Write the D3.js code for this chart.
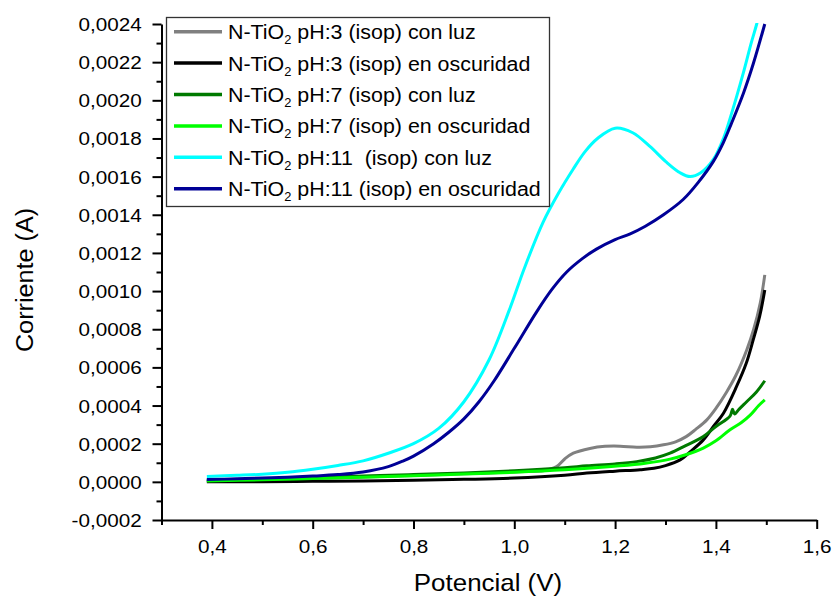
<!DOCTYPE html>
<html>
<head>
<meta charset="utf-8">
<script src="https://cdn.jsdelivr.net/npm/d3@7"></script>
<style>
  body { margin: 0; background: #fff; }
  svg text { font-family: "Liberation Sans", Arial, sans-serif; fill: #000; white-space: pre; }
</style>
</head>
<body>
<div id="chart"></div>
<script>
// data (potencial in V, corriente in A)
var xTicks = [0.4, 0.6, 0.8, 1.0, 1.2, 1.4, 1.6];
var xMinor = [0.3, 0.5, 0.7, 0.9, 1.1, 1.3, 1.5];
var yTicks = [-0.0002, 0, 0.0002, 0.0004, 0.0006, 0.0008, 0.0010, 0.0012, 0.0014, 0.0016, 0.0018, 0.0020, 0.0022, 0.0024];
var yMinor = [-0.0001, 0.0001, 0.0003, 0.0005, 0.0007, 0.0009, 0.0011, 0.0013, 0.0015, 0.0017, 0.0019, 0.0021, 0.0023];

var legendNames = [
  ["N-TiO", "2", " pH:3 (isop) con luz"],
  ["N-TiO", "2", " pH:3 (isop) en oscuridad"],
  ["N-TiO", "2", " pH:7 (isop) con luz"],
  ["N-TiO", "2", " pH:7 (isop) en oscuridad"],
  ["N-TiO", "2", " pH:11  (isop) con luz"],
  ["N-TiO", "2", " pH:11 (isop) en oscuridad"]
];
var colors = ["#808080", "#000000", "#007a00", "#00ff00", "#00ffff", "#000096"];

// pH 3 con luz
var xPh3Luz = [0.39, 0.5, 0.6, 0.7, 0.8, 0.9, 1.0, 1.06, 1.084, 1.1, 1.117, 1.15, 1.18, 1.21, 1.243, 1.27, 1.296, 1.32, 1.341, 1.36, 1.382, 1.40, 1.421, 1.44, 1.461, 1.475, 1.488, 1.497];
var yPh3Luz = [0.000005, 0.000012, 0.000018, 0.000025, 0.000033, 0.000042, 0.000052, 0.00006, 0.00008, 0.00012, 0.00015, 0.000175, 0.000186, 0.000187, 0.000182, 0.000184, 0.000194, 0.00021, 0.000237, 0.000275, 0.000325, 0.000385, 0.00047, 0.00056, 0.00069, 0.0008, 0.000937, 0.001085];
// pH 3 oscuridad
var xPh3Osc = [0.39, 0.5, 0.6, 0.7, 0.8, 0.9, 1.0, 1.1, 1.144, 1.2, 1.25, 1.277, 1.3, 1.329, 1.35, 1.375, 1.395, 1.415, 1.441, 1.46, 1.474, 1.487, 1.497];
var yPh3Osc = [0.0, 0.000001, 0.000003, 0.000005, 0.000008, 0.000013, 0.00002, 0.000035, 0.000046, 0.000056, 0.000064, 0.000071, 0.000085, 0.000115, 0.00016, 0.00022, 0.00029, 0.00036, 0.0005, 0.00062, 0.000744, 0.00087, 0.001006];
// pH 7 con luz
var xPh7Luz = [0.39, 0.5, 0.6, 0.7, 0.8, 0.9, 1.0, 1.1, 1.144, 1.2, 1.243, 1.28, 1.309, 1.34, 1.375, 1.40, 1.428, 1.433, 1.437, 1.445, 1.461, 1.48, 1.497];
var yPh7Luz = [0.000008, 0.000015, 0.000022, 0.00003, 0.000038, 0.000047, 0.000058, 0.000074, 0.000084, 0.000094, 0.000106, 0.000125, 0.00015, 0.00019, 0.000237, 0.00029, 0.000345, 0.00038, 0.000355, 0.000378, 0.00042, 0.00047, 0.00053];
// pH 7 oscuridad
var xPh7Osc = [0.39, 0.5, 0.6, 0.7, 0.8, 0.9, 1.0, 1.1, 1.21, 1.26, 1.309, 1.34, 1.375, 1.40, 1.428, 1.45, 1.468, 1.485, 1.497];
var yPh7Osc = [0.000005, 0.000011, 0.000017, 0.000024, 0.000032, 0.000041, 0.00005, 0.000063, 0.000084, 0.000098, 0.000119, 0.000142, 0.000177, 0.000215, 0.000273, 0.00031, 0.00035, 0.0004, 0.00043];
// pH 11 con luz
var xPh11Luz = [0.39, 0.45, 0.5, 0.55, 0.6, 0.65, 0.7, 0.75, 0.8, 0.85, 0.9, 0.95, 0.99, 1.02, 1.057, 1.087, 1.117, 1.14, 1.165, 1.20, 1.235, 1.269, 1.3, 1.329, 1.349, 1.37, 1.395, 1.415, 1.431, 1.454, 1.47, 1.481, 1.5];
var yPh11Luz = [0.000028, 0.000034, 0.00004, 0.00005, 0.000066, 0.000086, 0.00011, 0.00015, 0.0002, 0.00028, 0.00042, 0.00064, 0.0009, 0.00112, 0.00136, 0.00151, 0.00164, 0.00173, 0.0018, 0.001854, 0.00183, 0.001758, 0.00168, 0.00162, 0.0016, 0.00162, 0.00169, 0.0018, 0.00193, 0.00214, 0.0023, 0.0024, 0.0026];
// pH 11 oscuridad
var xPh11Osc = [0.39, 0.45, 0.5, 0.55, 0.6, 0.65, 0.7, 0.75, 0.78, 0.8, 0.84, 0.87, 0.9, 0.93, 0.96, 1.0, 1.044, 1.075, 1.104, 1.135, 1.163, 1.2, 1.23, 1.26, 1.296, 1.335, 1.365, 1.395, 1.415, 1.431, 1.455, 1.474, 1.497];
var yPh11Osc = [0.000012, 0.000016, 0.00002, 0.000024, 0.00003, 0.000038, 0.000052, 0.00008, 0.00011, 0.000135, 0.0002, 0.00026, 0.00033, 0.00042, 0.00053, 0.0007, 0.00089, 0.00101, 0.0011, 0.00117, 0.00122, 0.00127, 0.0013, 0.00134, 0.0014, 0.00148, 0.00157, 0.00168, 0.00178, 0.00188, 0.00204, 0.00219, 0.0024];

var seriesX = [xPh3Luz, xPh3Osc, xPh7Luz, xPh7Osc, xPh11Luz, xPh11Osc];
var seriesY = [yPh3Luz, yPh3Osc, yPh7Luz, yPh7Osc, yPh11Luz, yPh11Osc];

// canvas
var svgWidth = 832, svgHeight = 597;
var plotLeft = 161.5, plotRight = 816.7, plotTop = 24, plotBottom = 520;

var svg = d3.select("#chart").append("svg")
    .attr("width", svgWidth)
    .attr("height", svgHeight);

var xScale = d3.scaleLinear().domain([0.3, 1.6]).range([plotLeft, plotRight]);
var yScale = d3.scaleLinear().domain([-0.0002, 0.0024]).range([plotBottom, plotTop]);

var comma = function(n, dec) { return d3.format("." + dec + "f")(n).replace(".", ",").replace("−", "-"); };

// clip for the curves
svg.append("clipPath").attr("id", "plotclip")
  .append("rect")
    .attr("x", plotLeft).attr("y", plotTop - 1)
    .attr("width", plotRight - plotLeft).attr("height", plotBottom - plotTop + 1);

// curves
var line = d3.line()
    .x(d => xScale(d[0]))
    .y(d => yScale(d[1]))
    .curve(d3.curveCatmullRom.alpha(0.5));

var curves = svg.append("g").attr("clip-path", "url(#plotclip)");
seriesX.forEach(function(xs, i) {
  var pts = xs.map((x, j) => [x, seriesY[i][j]]);
  curves.append("path")
      .datum(pts)
      .attr("d", line)
      .attr("fill", "none")
      .attr("stroke", colors[i])
      .attr("stroke-width", 3)
      .attr("stroke-linejoin", "round");
});

// axes
var xAxis = d3.axisBottom(xScale).tickValues(xTicks).tickSize(9).tickSizeOuter(0)
    .tickFormat(d => comma(d, 1));
var xAxisMinor = d3.axisBottom(xScale).tickValues(xMinor).tickSize(5).tickFormat("");
var yAxis = d3.axisLeft(yScale).tickValues(yTicks).tickSize(9).tickSizeOuter(0)
    .tickFormat(d => comma(d, 4));
var yAxisMinor = d3.axisLeft(yScale).tickValues(yMinor).tickSize(5).tickFormat("");

var gx = svg.append("g").attr("transform", `translate(0, ${plotBottom})`).call(xAxis);
svg.append("g").attr("transform", `translate(0, ${plotBottom})`).call(xAxisMinor)
  .select(".domain").remove();
var gy = svg.append("g").attr("transform", `translate(${plotLeft}, 0)`).call(yAxis);
svg.append("g").attr("transform", `translate(${plotLeft}, 0)`).call(yAxisMinor)
  .select(".domain").remove();

svg.selectAll(".domain, .tick line").attr("stroke", "#000").attr("stroke-width", 2);

gx.selectAll(".tick text")
    .attr("y", 33).attr("dy", 0)
    .attr("font-size", 18)
    .attr("font-family", null)
    .attr("transform", "scale(1.15,1)");
gy.selectAll(".tick text")
    .attr("x", -17.2).attr("dy", "0.36em")
    .attr("font-size", 18)
    .attr("font-family", null)
    .attr("transform", "scale(1.15,1)");

// axis titles
svg.append("text")
    .attr("transform", "translate(488,591) scale(1.08,1)")
    .attr("text-anchor", "middle")
    .attr("font-size", 24)
    .text("Potencial (V)");

svg.append("text")
    .attr("transform", "translate(33,280) rotate(-90) scale(1.05,1)")
    .attr("text-anchor", "middle")
    .attr("font-size", 24)
    .text("Corriente (A)");

// legend
var legend = svg.append("g");
legend.append("rect")
    .attr("x", 166.5).attr("y", 17.5)
    .attr("width", 383).attr("height", 189)
    .attr("fill", "#fff")
    .attr("stroke", "#333")
    .attr("stroke-width", 1.3);

legendNames.forEach(function(name, i) {
  var ry = 31.7 + i * 31.4;
  legend.append("line")
      .attr("x1", 174).attr("x2", 222)
      .attr("y1", ry).attr("y2", ry)
      .attr("stroke", colors[i])
      .attr("stroke-width", 3.5);
  var t = legend.append("text")
      .attr("transform", `translate(228, ${ry + 7.5}) scale(1.07,1)`)
      .attr("font-size", 20);
  t.append("tspan").text(name[0]);
  t.append("tspan").attr("font-size", 12).attr("dy", 5).text(name[1]);
  t.append("tspan").attr("dy", -5).text(name[2]);
});
</script>
</body>
</html>
